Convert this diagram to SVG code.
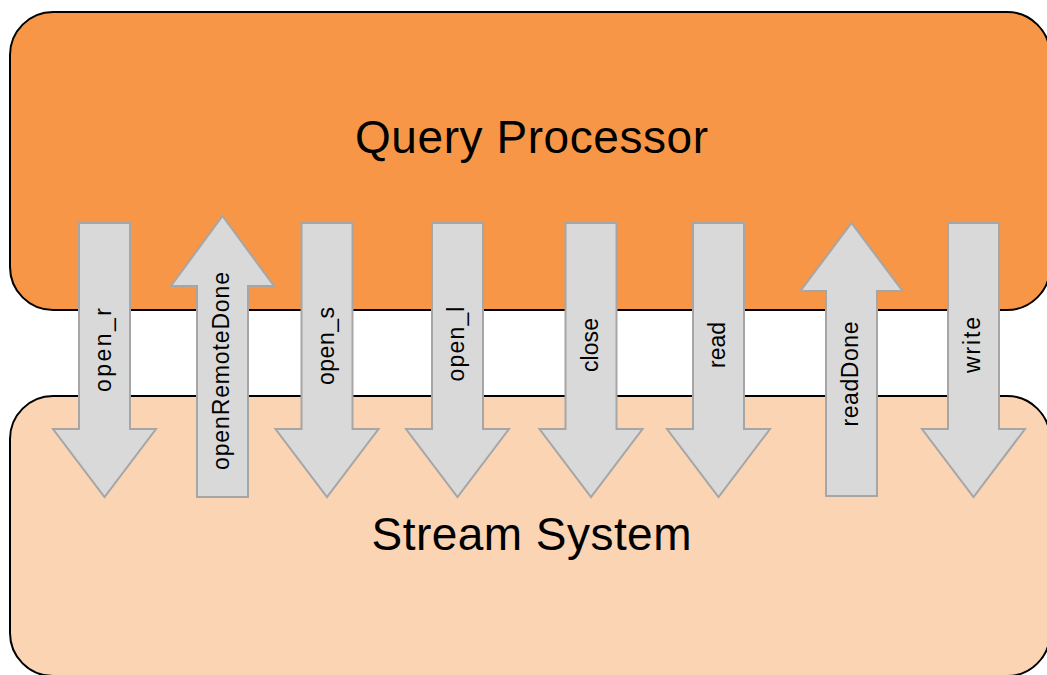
<svg xmlns="http://www.w3.org/2000/svg" width="1047" height="675" viewBox="0 0 1047 675">
  <style>
    .box { stroke: #000000; stroke-width: 2; }
    .qp { fill: #f79646; }
    .ss { fill: #fbd4b4; }
    .title { font-family: "Liberation Sans", Arial, sans-serif; font-size: 46px; fill: #000000; text-anchor: middle; }
    .arrow { fill: #d9d9d9; stroke: #a6a6a6; stroke-width: 2; stroke-linejoin: miter; }
    .lbl { font-family: "Liberation Sans", Arial, sans-serif; font-size: 23px; fill: #000000; text-anchor: middle; }
  </style>
  <rect width="1047" height="675" fill="#ffffff"/>
  <g id="query-processor">
    <rect class="box qp" x="10" y="12" width="1040" height="298" rx="43" ry="43"/>
    <text class="title" x="531.5" y="153" textLength="353">Query Processor</text>
  </g>
  <g id="stream-system">
    <rect class="box ss" x="10" y="396" width="1040" height="280" rx="43" ry="43"/>
    <text class="title" x="531.5" y="550" textLength="320">Stream System</text>
  </g>
  <g id="connectors">
    <g id="open_r">
      <polygon class="arrow" points="79,223 130,223 130,429 156,429 104.5,497 53,429 79,429"/>
      <text class="lbl" transform="translate(111,350) rotate(-90)" textLength="84">open_r</text>
    </g>
    <g id="openRemoteDone">
      <polygon class="arrow" points="222.5,216 274,286 248,286 248,497 197,497 197,286 171,286"/>
      <text class="lbl" transform="translate(229,371) rotate(-90)" textLength="198">openRemoteDone</text>
    </g>
    <g id="open_s">
      <polygon class="arrow" points="301.5,223 352.5,223 352.5,429 378.5,429 327,497 275.5,429 301.5,429"/>
      <text class="lbl" transform="translate(334,346) rotate(-90)" textLength="78">open_s</text>
    </g>
    <g id="open_l">
      <polygon class="arrow" points="432,223 483,223 483,429 509,429 457.5,497 406,429 432,429"/>
      <text class="lbl" transform="translate(464,344) rotate(-90)" textLength="75">open_l</text>
    </g>
    <g id="close">
      <polygon class="arrow" points="565.5,223 616.5,223 616.5,429 642.5,429 591,497 539.5,429 565.5,429"/>
      <text class="lbl" transform="translate(597.5,345) rotate(-90)" textLength="54">close</text>
    </g>
    <g id="read">
      <polygon class="arrow" points="693,223 744,223 744,429 770,429 718.5,497 667,429 693,429"/>
      <text class="lbl" transform="translate(725,345) rotate(-90)" textLength="46">read</text>
    </g>
    <g id="readDone">
      <polygon class="arrow" points="851.5,223 902.5,291 877,291 877,496 826,496 826,291 800.5,291"/>
      <text class="lbl" transform="translate(858,374) rotate(-90)" textLength="105">readDone</text>
    </g>
    <g id="write">
      <polygon class="arrow" points="948,223 999,223 999,429 1025,429 973.5,497 922,429 948,429"/>
      <text class="lbl" transform="translate(980,345) rotate(-90)" textLength="56">write</text>
    </g>
  </g>
</svg>
